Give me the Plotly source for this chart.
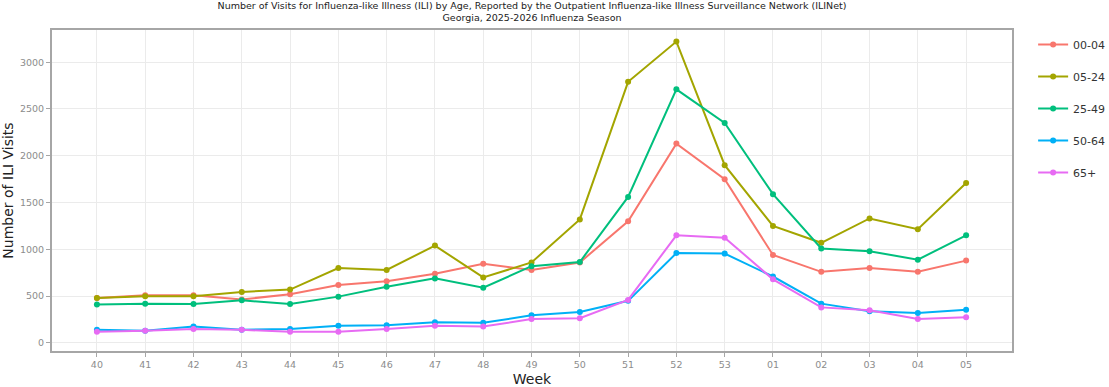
import plotly.graph_objects as go

weeks = ["40", "41", "42", "43", "44", "45", "46", "47", "48", "49", "50",
         "51", "52", "53", "01", "02", "03", "04", "05"]

age_00_04 = [480, 510, 510, 465, 520, 620, 660, 740, 845, 780, 860,
             1300, 2130, 1750, 940, 760, 800, 760, 880]
age_05_24 = [480, 500, 500, 545, 570, 800, 780, 1040, 700, 860, 1320,
             2790, 3220, 1900, 1250, 1070, 1330, 1215, 1710]
age_25_49 = [410, 420, 415, 455, 415, 495, 600, 690, 590, 820, 865,
             1560, 2710, 2350, 1590, 1010, 980, 890, 1150]
age_50_64 = [140, 130, 175, 140, 150, 185, 190, 220, 215, 295, 330,
             450, 960, 955, 710, 420, 340, 320, 355]
age_65p = [120, 130, 150, 140, 120, 120, 150, 185, 175, 255, 265,
           460, 1150, 1125, 680, 380, 350, 255, 275]

series_names = ["00-04", "05-24", "25-49", "50-64", "65+"]
series_values = [age_00_04, age_05_24, age_25_49, age_50_64, age_65p]
colors = ["#F8766D", "#A3A500", "#00BF7D", "#00B0F6", "#E76BF3"]

FONT = "DejaVu Sans"

fig = go.Figure()
for name, vals, col in zip(series_names, series_values, colors):
    fig.add_trace(go.Scatter(
        x=list(range(len(weeks))), y=vals, name=name, mode="lines+markers",
        legendgroup=name,
        line=dict(color=col, width=2), marker=dict(color=col, size=6),
    ))

fig.update_layout(
    width=1109, height=387,
    paper_bgcolor="white", plot_bgcolor="white",
    margin=dict(l=52, r=97, t=30, b=36, autoexpand=False),
    font=dict(family=FONT, color="#333333"),
    title=dict(
        text="Number of Visits for Influenza-like Illness (ILI) by Age, Reported by the Outpatient Influenza-like Illness Surveillance Network (ILINet)<br>Georgia, 2025-2026 Influenza Season",
        x=0.5, xanchor="center", xref="paper",
        y=0.977, yanchor="middle", yref="container",
        font=dict(size=9.5, color="#222222", family=FONT),
        automargin=False,
    ),
    legend=dict(
        x=1.022, xanchor="left", y=1.0, yanchor="top",
        font=dict(size=11, color="#333333"),
        tracegroupgap=13, bgcolor="rgba(0,0,0,0)",
    ),
    showlegend=True,
)

fig.update_xaxes(
    tickmode="array", tickvals=list(range(len(weeks))), ticktext=weeks,
    range=[-0.93, 18.95], automargin=False,
    showgrid=True, gridcolor="#ebebeb", gridwidth=1,
    showline=True, linecolor="#a6a6a6", linewidth=2, mirror=True,
    ticks="outside", tickcolor="#a6a6a6", ticklen=4,
    tickfont=dict(size=9.5, color="#8c8c8c"),
    zeroline=False,
    title=dict(text="Week", font=dict(size=14, color="#222222"), standoff=7),
)
fig.update_yaxes(
    range=[-86, 3344], automargin=False,
    tickvals=[0, 500, 1000, 1500, 2000, 2500, 3000],
    showgrid=True, gridcolor="#ebebeb", gridwidth=1,
    showline=True, linecolor="#a6a6a6", linewidth=2, mirror=True,
    ticks="outside", tickcolor="#a6a6a6", ticklen=4,
    tickfont=dict(size=9.5, color="#8c8c8c"),
    zeroline=False,
    title=dict(text="Number of ILI Visits", font=dict(size=14, color="#222222"), standoff=6),
)

fig.write_html("out.html",
               config={"displayModeBar": False},
               post_script="document.body.style.margin='0';document.body.style.overflow='hidden';")
